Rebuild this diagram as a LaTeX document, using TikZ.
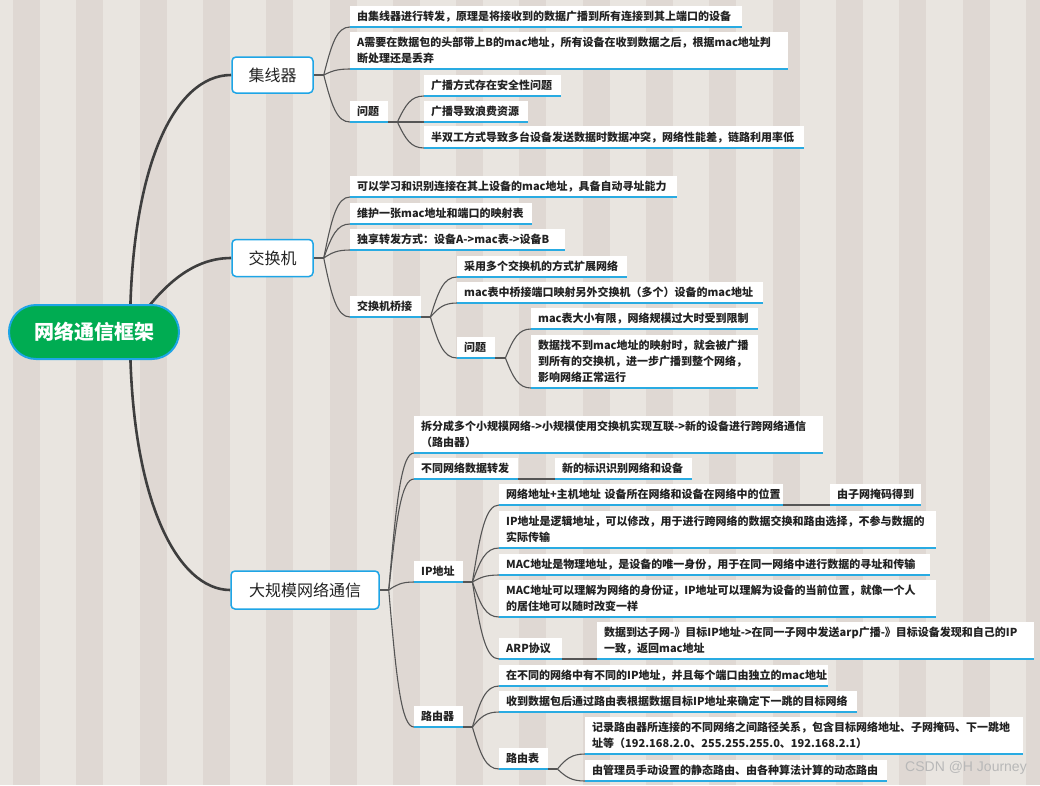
\documentclass[tikz,border=0pt]{standalone}
\usepackage{fontspec}
\setmainfont{Noto Sans CJK SC}
\newfontfamily\wmfont{Liberation Sans}
\usetikzlibrary{calc}
\definecolor{bglight}{RGB}{233,229,224}
\definecolor{bgdark}{RGB}{223,216,211}
\definecolor{xblue}{RGB}{30,165,230}
\definecolor{ublue}{RGB}{41,171,226}
\definecolor{rootgreen}{RGB}{0,172,82}
\definecolor{conncol}{RGB}{85,85,85}
\definecolor{maincol}{RGB}{62,62,62}
\definecolor{txt}{RGB}{34,34,34}
\pgfdeclarelayer{stripes}
\pgfdeclarelayer{lines}
\pgfsetlayers{stripes,lines,main}
\newcommand\brconn[2]{\draw[br] let \p1=(#1), \p2=(#2.south west) in (\p1) .. controls ({\x1+0.3*(\x2-\x1)},{\y1+0.65*(\y2-\y1)}) and ({\x1+0.5*(\x2-\x1)},{\y2}) .. (\p2);}
\begin{document}
\begin{tikzpicture}[x=1pt,y=-1pt,
  leaf/.style={fill=white, anchor=south west, inner xsep=7pt, inner ysep=5pt, minimum height=21pt, text width=#1pt, align=left, font=\fontsize{11}{16}\selectfont\bfseries, text=txt},
  lone/.style={draw=xblue, line width=1.5pt, fill=white, rounded corners=4pt, font=\fontsize{16}{16}\selectfont, text=txt, inner sep=0pt},
  br/.style={draw=conncol, line width=1.1pt},
  mainbr/.style={draw=maincol, line width=2.6pt},
  ul/.style={draw=ublue, line width=1.6pt}]
\useasboundingbox (0,0) rectangle (1040,785);
\begin{pgfonlayer}{stripes}
\begin{scope}
\clip (0,0) rectangle (1040,785);
\fill[bglight] (0,0) rectangle (1040,785);
\foreach \i in {0,...,16} \fill[bgdark] ({13+63.3*\i},0) rectangle +(27,785);
\end{scope}
\end{pgfonlayer}

% root and level 1
\node[draw=xblue, line width=2pt, fill=rootgreen, rounded corners=27pt, minimum width=170pt, minimum height=54pt, inner sep=0pt, text=white, font=\fontsize{20}{20}\selectfont\bfseries] (root) at (94,332) {网络通信框架};
\node[lone, minimum width=81pt, minimum height=36pt] (hub) at (272.5,75) {集线器};
\node[lone, minimum width=81pt, minimum height=37pt] (sw) at (272.5,258) {交换机};
\node[lone, minimum width=148pt, minimum height=38pt] (large) at (305,590) {大规模网络通信};

% hub children
\node[leaf=378] (h1) at (350,27) {由集线器进行转发，原理是将接收到的数据广播到所有连接到其上端口的设备};
\node[leaf=424] (h2) at (350,69) {A需要在数据包的头部带上B的mac地址，所有设备在收到数据之后，根据mac地址判\\断处理还是丢弃};
\node[leaf=24] (h3) at (350,122) {问题};
\node[leaf=123] (h3a) at (424,96) {广播方式存在安全性问题};
\node[leaf=90] (h3b) at (424,122) {广播导致浪费资源};
\node[leaf=366] (h3c) at (424,148) {半双工方式导致多台设备发送数据时数据冲突，网络性能差，链路利用率低};

% switch children
\node[leaf=313] (s1) at (350,197) {可以学习和识别连接在其上设备的mac地址，具备自动寻址能力};
\node[leaf=168] (s2) at (350,224) {维护一张mac地址和端口的映射表};
\node[leaf=201] (s3) at (350,250) {独享转发方式：设备A->mac表->设备B};
\node[leaf=57] (s4) at (350,317) {交换机桥接};
\node[leaf=156] (s4a) at (457,277) {采用多个交换机的方式扩展网络};
\node[leaf=292] (s4b) at (457,303) {mac表中桥接端口映射另外交换机（多个）设备的mac地址};
\node[leaf=24] (s4c) at (457,358) {问题};
\node[leaf=213] (s4c1) at (531,329) {mac表大小有限，网络规模过大时受到限制};
\node[leaf=213] (s4c2) at (531,388) {数据找不到mac地址的映射时，就会被广播\\到所有的交换机，进一步广播到整个网络，\\影响网络正常运行};

% large children
\node[leaf=395] (l1) at (414,453) {拆分成多个小规模网络->小规模使用交换机实现互联->新的设备进行跨网络通信\\（路由器）};
\node[leaf=90] (l2) at (414,479) {不同网络数据转发};
\node[leaf=123] (l2a) at (555,479) {新的标识识别网络和设备};
\node[leaf=35] (l3) at (414,582) {IP地址};
\node[leaf=270] (l3a) at (499,505) {网络地址+主机地址~设备所在网络和设备在网络中的位置};
\node[leaf=77] (l3a1) at (830,505) {由子网掩码得到};
\node[leaf=423] (l3b) at (499,548) {IP地址是逻辑地址，可以修改，用于进行跨网络的数据交换和路由选择，不参与数据的\\实际传输};
\node[leaf=417] (l3c) at (499,575) {MAC地址是物理地址，是设备的唯一身份，用于在同一网络中进行数据的寻址和传输};
\node[leaf=423] (l3d) at (499,617) {MAC地址可以理解为网络的身份证，IP地址可以理解为设备的当前位置，就像一个人\\的居住地可以随时改变一样};
\node[leaf=49] (l3e) at (499,659) {ARP协议};
\node[leaf=423] (l3e1) at (597,659) {数据到达子网-》目标IP地址->在同一子网中发送arp广播-》目标设备发现和自己的IP\\一致，返回mac地址};
\node[leaf=35] (l4) at (414,727) {路由器};
\node[leaf=315] (l4a) at (499,686) {在不同的网络中有不同的IP地址，并且每个端口由独立的mac地址};
\node[leaf=344] (l4b) at (499,712) {收到数据包后通过路由表根据数据目标IP地址来确定下一跳的目标网络};
\node[leaf=35] (l4c) at (499,769) {路由表};
\node[leaf=424] (l4c1) at (585,754) {记录路由器所连接的不同网络之间路径关系，包含目标网络地址、子网掩码、下一跳地\\址等（192.168.2.0、255.255.255.0、192.168.2.1）};
\node[leaf=288] (l4c2) at (585,781) {由管理员手动设置的静态路由、由各种算法计算的动态路由};

\node[anchor=south west, inner sep=0pt, text=black!28, font=\wmfont\fontsize{14}{14}\selectfont] (wm) at (905,775) {CSDN @H Journey};

\begin{pgfonlayer}{lines}
% main curves
\coordinate (rs) at ($(root.center)+(36,0)$);
\draw[mainbr] (rs) .. controls +(0,-165) and +(-57,0) .. (hub.west);
\draw[mainbr] (rs) .. controls +(28,-42) and +(-42,0) .. (sw.west);
\draw[mainbr] (rs) .. controls +(0,170) and +(-52,0) .. (large.west);
% hub
\coordinate (fhub) at ($(hub.east)+(10,0)$);
\draw[br] (hub.east) -- (fhub);
\brconn{fhub}{h1}\brconn{fhub}{h2}\brconn{fhub}{h3}
\coordinate (fh3) at ($(h3.south east)+(9,0)$);
\draw[br] (h3.south east) -- (fh3);
\brconn{fh3}{h3a}\brconn{fh3}{h3b}\brconn{fh3}{h3c}
% switch
\coordinate (fsw) at ($(sw.east)+(10,0)$);
\draw[br] (sw.east) -- (fsw);
\brconn{fsw}{s1}\brconn{fsw}{s2}\brconn{fsw}{s3}\brconn{fsw}{s4}
\coordinate (fs4) at ($(s4.south east)+(9,0)$);
\draw[br] (s4.south east) -- (fs4);
\brconn{fs4}{s4a}\brconn{fs4}{s4b}\brconn{fs4}{s4c}
\coordinate (fs4c) at ($(s4c.south east)+(10,0)$);
\draw[br] (s4c.south east) -- (fs4c);
\brconn{fs4c}{s4c1}\brconn{fs4c}{s4c2}
% large
\coordinate (fl) at ($(large.east)+(9,0)$);
\draw[br] (large.east) -- (fl);
\brconn{fl}{l1}\brconn{fl}{l2}\brconn{fl}{l3}\brconn{fl}{l4}
\draw[br] (l2.south east) -- (l2a.south west);
\coordinate (fl3) at ($(l3.south east)+(9,0)$);
\draw[br] (l3.south east) -- (fl3);
\brconn{fl3}{l3a}\brconn{fl3}{l3b}\brconn{fl3}{l3c}\brconn{fl3}{l3d}\brconn{fl3}{l3e}
\draw[br] (l3a.south east) -- (l3a1.south west);
\draw[br] (l3e.south east) -- (l3e1.south west);
\coordinate (fl4) at ($(l4.south east)+(9,0)$);
\draw[br] (l4.south east) -- (fl4);
\brconn{fl4}{l4a}\brconn{fl4}{l4b}\brconn{fl4}{l4c}
\coordinate (fl4c) at ($(l4c.south east)+(9,0)$);
\draw[br] (l4c.south east) -- (fl4c);
\brconn{fl4c}{l4c1}\brconn{fl4c}{l4c2}
\end{pgfonlayer}

% underlines
\foreach \n in {h1,h2,h3,h3a,h3b,h3c,s1,s2,s3,s4,s4a,s4b,s4c,s4c1,s4c2,l1,l2,l2a,l3,l3a,l3a1,l3b,l3c,l3d,l3e,l3e1,l4,l4a,l4b,l4c,l4c1,l4c2}
  \draw[ul] (\n.south west) -- (\n.south east);
\end{tikzpicture}
\end{document}
